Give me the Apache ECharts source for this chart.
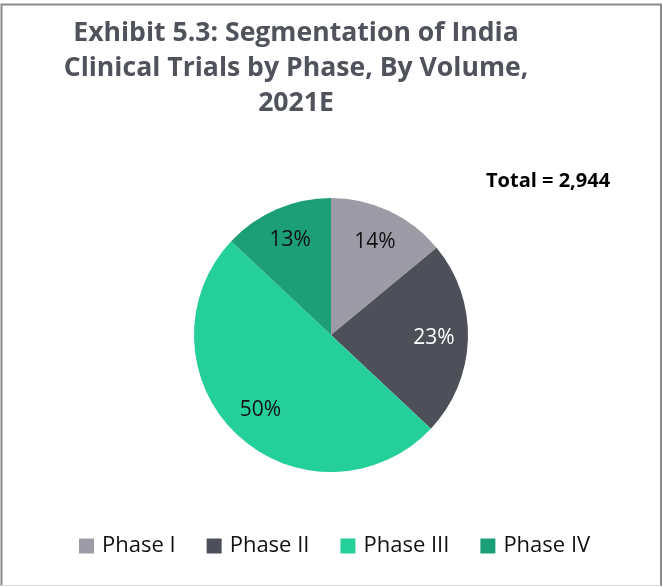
<!DOCTYPE html>
<html>
<head>
<meta charset="utf-8">
<script src="https://cdn.jsdelivr.net/npm/echarts@6/dist/echarts.min.js"></script>
<style>
  html, body { margin: 0; padding: 0; background: #ffffff; }
  #chart { width: 663px; height: 587px; }
</style>
</head>
<body>
<div id="chart"></div>
<script>
// Clinical trials in India by phase, share of volume (%)
const phases = ['Phase I', 'Phase II', 'Phase III', 'Phase IV'];
const shares = [14, 23, 50, 13];
const colors = ['#9d9ca6', '#4d4f59', '#25cf9a', '#1c9e77'];
const labelColors = ['#111111', '#ffffff', '#111111', '#111111'];
const totalTrials = '2,944';
const titleLines = ['Exhibit 5.3: Segmentation of India', 'Clinical Trials by Phase, By Volume,', '2021E'];

const chart = echarts.init(document.getElementById('chart'), null, { renderer: 'canvas' });

const pieData = phases.map((name, i) => ({
  name: name,
  value: shares[i],
  itemStyle: { color: colors[i] }
}));

const labelData = phases.map((name, i) => ({
  name: name,
  value: shares[i],
  label: { color: labelColors[i] }
}));

const option = {
  backgroundColor: '#ffffff',
  animation: false,
  title: {
    text: titleLines.join('\n'),
    left: 291,
    textAlign: 'center',
    top: 11,
    textStyle: {
      fontFamily: 'Open Sans',
      fontWeight: 'bold',
      fontSize: 26.6,
      lineHeight: 35,
      color: '#50535c'
    }
  },
  legend: {
    data: phases,
    bottom: 25,
    left: 74,
    itemWidth: 15,
    itemHeight: 15,
    itemGap: 31,
    icon: 'rect',
    textStyle: {
      fontFamily: 'Open Sans',
      fontSize: 22,
      color: '#111111',
      padding: [0, 0, 0, 3]
    }
  },
  graphic: [
    {
      type: 'text',
      left: 486,
      top: 171,
      style: {
        text: 'Total = ' + totalTrials,
        font: 'bold 20px "Open Sans"',
        fill: '#000000'
      }
    },
    {
      type: 'polyline',
      silent: true,
      shape: { points: [[1.5, 586], [1.5, 4.5], [661, 4.5], [661, 586]] },
      style: { stroke: '#8a8a8a', lineWidth: 2, fill: null }
    },
    {
      type: 'line',
      silent: true,
      shape: { x1: 1, y1: 585.5, x2: 661, y2: 585.5 },
      style: { stroke: '#d9d9d9', lineWidth: 1 }
    }
  ],
  series: [
    {
      type: 'pie',
      center: [331, 335],
      radius: 137,
      startAngle: 90,
      clockwise: true,
      silent: true,
      label: { show: false },
      labelLine: { show: false },
      data: pieData
    },
    {
      // label-only ring placing the percentages at ~100px from the centre
      type: 'pie',
      center: [331, 335],
      radius: [63, 137],
      startAngle: 90,
      clockwise: true,
      silent: true,
      legendHoverLink: false,
      itemStyle: { color: 'rgba(0,0,0,0)' },
      label: {
        show: true,
        position: 'inside',
        formatter: '{c}%',
        fontFamily: 'Open Sans',
        fontSize: 21
      },
      labelLine: { show: false },
      data: labelData
    }
  ]
};

chart.setOption(option);
</script>
</body>
</html>
